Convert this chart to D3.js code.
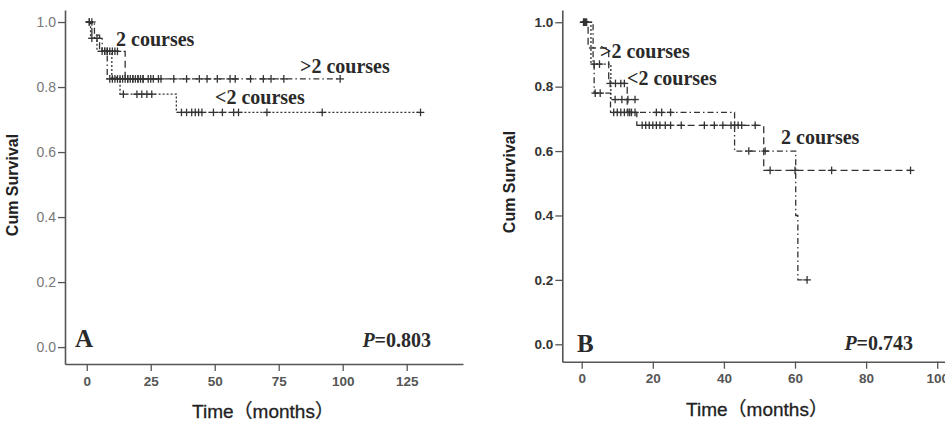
<!DOCTYPE html>
<html><head><meta charset="utf-8">
<script src="https://cdn.jsdelivr.net/npm/d3@7"></script>
<style>
html,body{margin:0;padding:0;background:#fff;}
svg{display:block;}
</style></head>
<body>
<svg id="chart" width="945" height="422"></svg>
<script>
// ---------- DATA ----------
const aXTicks = [0, 25, 50, 75, 100, 125];
const yTicks = [0, 0.2, 0.4, 0.6, 0.8, 1.0];
const bXTicks = [0, 20, 40, 60, 80, 100];

// step changes: [time, survival]
const aMoreSteps = [[0,1],[3,0.95],[6,0.91],[8,0.825]];
const aMoreEnd = 99;
const aMoreCens = [1,2,4,7,9,10,11,12,13,14,15,16,17,18,19,20,21,22,24,26,29,34,39,44,47,51,56,58,64,69,72,77,99];

const aTwoSteps = [[0,1],[2,0.96],[5,0.91],[15,0.825]];
const aTwoEnd = 28;
const aTwoCens = [1,6,7,8,9,10,11,12,16,18,20,22,25,28];

const aLessSteps = [[0,1],[1.5,0.95],[4,0.91],[9.8,0.83],[13,0.778],[35,0.722]];
const aLessEnd = 130.4;
const aLessCens = [2,8,14.3,19.6,21.5,23.5,25.4,37,39,41,42.4,43.7,45,49.5,53,57.4,59.3,70.4,92,130.4];

const bTwoSteps = [[0,1],[1.8,0.92],[7.6,0.81],[12.8,0.72],[15.5,0.68],[51.2,0.54]];
const bTwoEnd = 92.5;
const bTwoCens = [0.6,1.4,8,9.5,11,12,13.5,17,18,19,20,21,22,23.5,25,28,34.5,37.3,39.7,42,43,44,45,48.8,53,60,70.3,92.5];

const bMoreSteps = [[0,1],[3.2,0.87],[3.5,0.78],[8.1,0.72],[43,0.60],[60.2,0.40],[60.8,0.20]];
const bMoreEnd = 63.4;
const bMoreCens = [0.5,1,3.8,5.2,9,10,11,12,13,14,15,21,22.5,25,47,51.6,63.4];

const bLessSteps = [[0,1],[2.6,0.87],[8.2,0.76]];
const bLessEnd = 15;
const bLessCens = [0.8,1.2,3.5,5,9.4,11.3,13,15];

// ---------- DRAW ----------
const svg = d3.select("#chart");
const lineColor = "#333";
const styles = {
  two:  "7,4",
  more: "6,3,1.5,3",
  less: "2,2"
};

function stepValue(steps, t){
  let v = steps[0][1];
  for (const s of steps) { if (s[0] <= t) v = s[1]; }
  return v;
}

function drawPanel(cfg){
  const g = svg.append("g");
  const x = d3.scaleLinear().domain(cfg.xDomain).range(cfg.xRange);
  const y = d3.scaleLinear().domain(cfg.yDomain).range(cfg.yRange);

  const ya = g.append("g").attr("transform", `translate(${cfg.xRange[0]},0)`)
    .call(d3.axisLeft(y).tickValues(yTicks).tickFormat(d3.format(".1f")).tickSize(7).tickSizeOuter(0).tickPadding(2));
  ya.select(".domain").attr("stroke", "#555").attr("stroke-width", 1.6);
  ya.selectAll(".tick line").attr("stroke", "#555").attr("stroke-width", 1.3);
  ya.selectAll(".tick text").attr("font-family", "Liberation Sans, Arial, sans-serif")
    .attr("font-size", cfg.yTickSize).attr("font-weight", cfg.yTickWeight).attr("fill", cfg.yTickColor);

  const xa = g.append("g").attr("transform", `translate(0,${cfg.yRange[0]})`)
    .call(d3.axisBottom(x).tickValues(cfg.xTicks).tickSize(7).tickSizeOuter(0).tickPadding(5));
  xa.select(".domain").attr("stroke", "#555").attr("stroke-width", 1.6);
  xa.selectAll(".tick line").attr("stroke", "#555").attr("stroke-width", 1.3);
  xa.selectAll(".tick text").attr("font-family", "Liberation Sans, Arial, sans-serif")
    .attr("font-size", 13.5).attr("font-weight", "bold").attr("fill", "#555");

  const line = d3.line().x(d => x(d[0])).y(d => y(d[1])).curve(d3.curveStepAfter);

  cfg.series.forEach(s => {
    const pts = s.steps.concat([[s.end, s.steps[s.steps.length-1][1]]]);
    g.append("path").attr("d", line(pts)).attr("fill", "none")
      .attr("stroke", lineColor).attr("stroke-width", 1.3)
      .attr("stroke-dasharray", styles[s.style]);
    const cg = g.append("g");
    s.cens.forEach(t => {
      const cx = x(t), cy = y(stepValue(s.steps, t));
      cg.append("line").attr("x1", cx-3.8).attr("x2", cx+3.8).attr("y1", cy).attr("y2", cy)
        .attr("stroke", lineColor).attr("stroke-width", 1.3);
      cg.append("line").attr("x1", cx).attr("x2", cx).attr("y1", cy-3.8).attr("y2", cy+3.8)
        .attr("stroke", lineColor).attr("stroke-width", 1.3);
    });
  });

  g.append("text").attr("x", cfg.xTitle[0]).attr("y", cfg.xTitle[1]).attr("text-anchor", "middle")
    .attr("font-family", "Liberation Sans, Arial, 'Noto Sans CJK SC', sans-serif").attr("font-size", 19)
    .attr("fill", "#222").attr("stroke", "#222").attr("stroke-width", 0.3).text("Time（months）");
  g.append("text").attr("transform", `translate(${cfg.yTitle[0]},${cfg.yTitle[1]}) rotate(-90)`)
    .attr("text-anchor", "middle").attr("font-family", "Liberation Sans, Arial, sans-serif")
    .attr("font-size", 16).attr("font-weight", "bold").attr("fill", "#222").text("Cum Survival");

  cfg.labels.forEach(l => {
    g.append("text").attr("x", l[1]).attr("y", l[2])
      .attr("font-family", "Liberation Serif, 'Times New Roman', serif").attr("font-size", 20)
      .attr("font-weight", "bold").attr("fill", "#2a2a2a").text(l[0]);
  });
  g.append("text").attr("x", cfg.panel[1]).attr("y", cfg.panel[2])
    .attr("font-family", "Liberation Serif, 'Times New Roman', serif").attr("font-size", 25)
    .attr("font-weight", "bold").attr("fill", "#2a2a2a").text(cfg.panel[0]);
  const pt = g.append("text").attr("x", cfg.pval[1]).attr("y", cfg.pval[2]).attr("text-anchor", "end")
    .attr("font-family", "Liberation Serif, 'Times New Roman', serif").attr("font-size", 20)
    .attr("font-weight", "bold").attr("fill", "#2a2a2a");
  pt.append("tspan").attr("font-style", "italic").text("P");
  pt.append("tspan").text("=" + cfg.pval[0]);
}

drawPanel({
  xDomain: [-8.5, 147], xRange: [65, 463],
  yDomain: [-0.052, 1.037], yRange: [364, 10],
  xTicks: aXTicks,
  yTickSize: 14, yTickWeight: "normal", yTickColor: "#777",
  series: [
    {steps: aMoreSteps, end: aMoreEnd, cens: aMoreCens, style: "more"},
    {steps: aTwoSteps, end: aTwoEnd, cens: aTwoCens, style: "two"},
    {steps: aLessSteps, end: aLessEnd, cens: aLessCens, style: "less"}
  ],
  xTitle: [263, 418], yTitle: [18, 185],
  labels: [["2 courses", 116, 46], [">2 courses", 300, 73], ["<2 courses", 215, 104]],
  panel: ["A", 75, 347],
  pval: ["0.803", 431, 347]
});

drawPanel({
  xDomain: [-5.46, 103.6], xRange: [562.3, 950],
  yDomain: [-0.054, 1.038], yRange: [361.7, 10],
  xTicks: bXTicks,
  yTickSize: 13.5, yTickWeight: "bold", yTickColor: "#333",
  series: [
    {steps: bTwoSteps, end: bTwoEnd, cens: bTwoCens, style: "two"},
    {steps: bMoreSteps, end: bMoreEnd, cens: bMoreCens, style: "more"},
    {steps: bLessSteps, end: bLessEnd, cens: bLessCens, style: "less"}
  ],
  xTitle: [757, 416], yTitle: [515, 182],
  labels: [[">2 courses", 600, 58], ["<2 courses", 627, 85], ["2 courses", 781, 144]],
  panel: ["B", 577, 352],
  pval: ["0.743", 913, 350]
});
</script>
</body></html>
